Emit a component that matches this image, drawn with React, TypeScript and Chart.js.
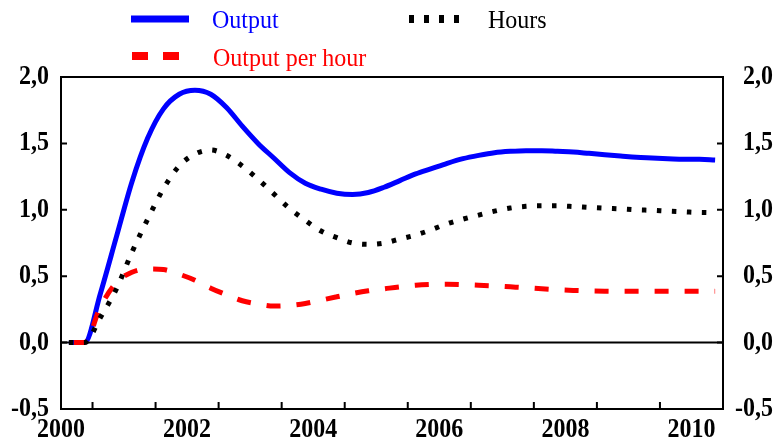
import React, { useEffect, useRef } from "react";
import { Chart, registerables } from "chart.js";

Chart.register(...registerables);

// Quarterly periods on the category axis
const quarterLabels = [
  "2000 Q1", "2000 Q2", "2000 Q3", "2000 Q4", "2001 Q1", "2001 Q2", "2001 Q3", "2001 Q4",
  "2002 Q1", "2002 Q2", "2002 Q3", "2002 Q4", "2003 Q1", "2003 Q2", "2003 Q3", "2003 Q4",
  "2004 Q1", "2004 Q2", "2004 Q3", "2004 Q4", "2005 Q1", "2005 Q2", "2005 Q3", "2005 Q4",
  "2006 Q1", "2006 Q2", "2006 Q3", "2006 Q4", "2007 Q1", "2007 Q2", "2007 Q3", "2007 Q4",
  "2008 Q1", "2008 Q2", "2008 Q3", "2008 Q4", "2009 Q1", "2009 Q2", "2009 Q3", "2009 Q4",
  "2010 Q1", "2010 Q2",
];

// Year labels (placed at the start of each year) and years carrying a mid-year tick mark
const yearLabels = ["2000", "2002", "2004", "2006", "2008", "2010"];
const tickYears = ["2000", "2001", "2002", "2003", "2004", "2005", "2006", "2007", "2008", "2009"];

// Value axis
const yMin = -0.5;
const yMax = 2.0;
const yStep = 0.5;

// Series (percentage deviation)
const outputValues = [
  0, 0, 0.37, 0.79, 1.21, 1.54, 1.76, 1.87, 1.9, 1.87,
  1.77, 1.63, 1.5, 1.39, 1.28, 1.2, 1.155, 1.125, 1.115, 1.13,
  1.17, 1.22, 1.27, 1.31, 1.35, 1.385, 1.41, 1.43, 1.44, 1.445,
  1.445, 1.44, 1.435, 1.425, 1.415, 1.405, 1.395, 1.39, 1.385, 1.38,
  1.38, 1.375,
];
const hoursValues = [
  0, 0, 0.19, 0.4, 0.68, 0.93, 1.16, 1.33, 1.42, 1.45,
  1.41, 1.33, 1.23, 1.12, 1.01, 0.92, 0.84, 0.79, 0.75, 0.74,
  0.75, 0.78, 0.81, 0.85, 0.895, 0.93, 0.96, 0.99, 1.013, 1.026,
  1.03, 1.03, 1.025, 1.018, 1.012, 1.007, 1.0, 0.996, 0.99, 0.985,
  0.98, 0.978,
];
const perHourValues = [
  0, 0, 0.27, 0.45, 0.53, 0.555, 0.55, 0.515, 0.47, 0.41,
  0.36, 0.315, 0.29, 0.275, 0.28, 0.295, 0.32, 0.345, 0.37, 0.39,
  0.405, 0.42, 0.432, 0.438, 0.44, 0.437, 0.432, 0.427, 0.42, 0.413,
  0.405, 0.398, 0.393, 0.389, 0.387, 0.386, 0.386, 0.386, 0.386, 0.386,
  0.386, 0.386,
];

const BLUE = "#0000ff";
const RED = "#ff0000";
const INK = "#000000";
const SERIF = '"Liberation Serif", "Times New Roman", serif';
const AXIS_FONT = `bold 24px ${SERIF}`;
const LEGEND_FONT = `24px ${SERIF}`;

const fmt = (v: number) => v.toFixed(1).replace(".", ",");

function stretchedText(
  ctx: CanvasRenderingContext2D,
  text: string,
  x: number,
  y: number,
  align: CanvasTextAlign,
  font: string,
  color: string,
  sy: number
) {
  ctx.save();
  ctx.translate(x, y);
  ctx.scale(1, sy);
  ctx.font = font;
  ctx.textAlign = align;
  ctx.textBaseline = "alphabetic";
  ctx.fillStyle = color;
  ctx.fillText(text, 0, 0);
  ctx.restore();
}

const decorPlugin = {
  id: "decor",
  beforeDatasetsDraw(chart: any) {
    const { ctx, chartArea: a, scales } = chart;
    const y0 = scales.y.getPixelForValue(0);
    ctx.save();
    ctx.strokeStyle = INK;
    ctx.lineWidth = 2;
    ctx.beginPath();
    ctx.moveTo(a.left, y0);
    ctx.lineTo(a.right, y0);
    ctx.stroke();
    ctx.restore();
  },
  afterDatasetsDraw(chart: any) {
    const { ctx, chartArea: a, scales } = chart;
    const x = scales.x;
    const y = scales.y;
    const y2 = scales.y2;
    ctx.save();
    ctx.strokeStyle = INK;
    ctx.lineWidth = 2;
    ctx.strokeRect(a.left, a.top, a.right - a.left, a.bottom - a.top);

    // inward tick marks on the value axes
    ctx.beginPath();
    y.ticks.forEach((t: any) => {
      const py = y.getPixelForValue(t.value);
      ctx.moveTo(a.left, py);
      ctx.lineTo(a.left + 6, py);
    });
    y2.ticks.forEach((t: any) => {
      const py = y2.getPixelForValue(t.value);
      ctx.moveTo(a.right, py);
      ctx.lineTo(a.right - 6, py);
    });
    // mid-year tick marks on the time axis
    tickYears.forEach((yr) => {
      const i = quarterLabels.indexOf(`${yr} Q2`);
      const px = x.getPixelForValue(i + 0.5);
      ctx.moveTo(px, a.bottom);
      ctx.lineTo(px, a.bottom - 7);
    });
    ctx.stroke();

    // value labels
    y.ticks.forEach((t: any) => {
      const py = y.getPixelForValue(t.value);
      stretchedText(ctx, fmt(t.value), a.left - 12, py + 7, "right", AXIS_FONT, INK, 1.12);
    });
    y2.ticks.forEach((t: any) => {
      const py = y2.getPixelForValue(t.value);
      stretchedText(ctx, fmt(t.value), a.right + 50, py + 7, "right", AXIS_FONT, INK, 1.12);
    });
    // year labels at the start of each year
    yearLabels.forEach((yr) => {
      const i = quarterLabels.indexOf(`${yr} Q1`);
      const px = x.getPixelForValue(i - 0.5);
      stretchedText(ctx, yr, px, a.bottom + 28, "center", AXIS_FONT, INK, 1.12);
    });

    // legend
    const ds = chart.data.datasets;
    ctx.lineCap = "butt";
    // Output
    ctx.strokeStyle = ds[0].borderColor;
    ctx.lineWidth = 7;
    ctx.setLineDash([]);
    ctx.beginPath();
    ctx.moveTo(131, 19);
    ctx.lineTo(189, 19);
    ctx.stroke();
    stretchedText(ctx, ds[0].label, 212, 28, "left", LEGEND_FONT, ds[0].borderColor, 1.05);
    // Hours
    ctx.strokeStyle = ds[1].borderColor;
    ctx.lineWidth = 8;
    ctx.setLineDash([5, 10]);
    ctx.beginPath();
    ctx.moveTo(409, 19);
    ctx.lineTo(461, 19);
    ctx.stroke();
    stretchedText(ctx, ds[1].label, 488, 28, "left", LEGEND_FONT, ds[1].borderColor, 1.05);
    // Output per hour
    ctx.strokeStyle = ds[2].borderColor;
    ctx.lineWidth = 8;
    ctx.setLineDash([16, 15]);
    ctx.beginPath();
    ctx.moveTo(132, 56);
    ctx.lineTo(179, 56);
    ctx.stroke();
    stretchedText(ctx, ds[2].label, 213, 66, "left", LEGEND_FONT, ds[2].borderColor, 1.05);
    ctx.restore();
  },
};

export default function App() {
  const canvasRef = useRef<HTMLCanvasElement | null>(null);

  useEffect(() => {
    const canvas = canvasRef.current;
    if (!canvas) return;
    const chart = new Chart(canvas, {
      type: "line",
      data: {
        labels: quarterLabels,
        datasets: [
          {
            label: "Output",
            data: outputValues,
            borderColor: BLUE,
            borderWidth: 5,
            pointRadius: 0,
            cubicInterpolationMode: "monotone",
            yAxisID: "y",
            order: 3,
          },
          {
            label: "Hours",
            data: hoursValues,
            borderColor: INK,
            borderWidth: 5,
            borderDash: [4.5, 10.5],
            borderCapStyle: "butt",
            pointRadius: 0,
            cubicInterpolationMode: "monotone",
            yAxisID: "y",
            order: 1,
          },
          {
            label: "Output per hour",
            data: perHourValues,
            borderColor: RED,
            borderWidth: 5,
            borderDash: [14, 16],
            borderDashOffset: 25,
            borderCapStyle: "butt",
            pointRadius: 0,
            cubicInterpolationMode: "monotone",
            yAxisID: "y",
            order: 2,
          },
        ],
      },
      options: {
        responsive: false,
        animation: false,
        devicePixelRatio: 1,
        layout: { padding: { top: 77, left: 0, right: 0, bottom: 0 } },
        plugins: {
          legend: { display: false },
          tooltip: { enabled: false },
        },
        scales: {
          x: {
            type: "category",
            offset: true,
            grid: { display: false },
            border: { display: false },
            ticks: { display: false },
            afterFit: (s: any) => {
              s.height = 34;
            },
          },
          y: {
            position: "left",
            min: yMin,
            max: yMax,
            ticks: { display: false, stepSize: yStep },
            grid: { display: false },
            border: { display: false },
            afterFit: (s: any) => {
              s.width = 61;
            },
          },
          y2: {
            position: "right",
            min: yMin,
            max: yMax,
            ticks: { display: false, stepSize: yStep },
            grid: { display: false },
            border: { display: false },
            afterFit: (s: any) => {
              s.width = 51;
            },
          },
        },
      },
      plugins: [decorPlugin],
    });
    return () => chart.destroy();
  }, []);

  return (
    <canvas
      ref={canvasRef}
      width={774}
      height={443}
      style={{ position: "fixed", left: 0, top: 0, background: "#ffffff" }}
    />
  );
}
